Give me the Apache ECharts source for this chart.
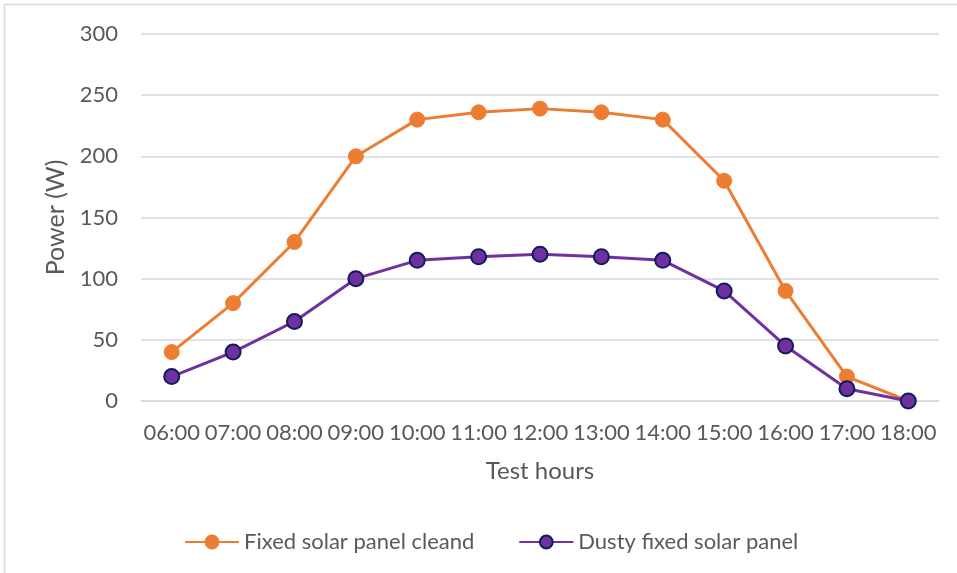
<!DOCTYPE html>
<html>
<head>
<meta charset="utf-8">
<script src="https://cdn.jsdelivr.net/npm/echarts@6/dist/echarts.min.js"></script>
<style>
html, body { margin: 0; padding: 0; background: #fff; }
#main { width: 957px; height: 573px; }
</style>
</head>
<body>
<div id="main"></div>
<script>
var hours = ['06:00', '07:00', '08:00', '09:00', '10:00', '11:00', '12:00', '13:00', '14:00', '15:00', '16:00', '17:00', '18:00'];
var cleanPanel = [40, 80, 130, 200, 230, 236, 239, 236, 230, 180, 90, 20, 0];
var dustyPanel = [20, 40, 65, 100, 115, 118, 120, 118, 115, 90, 45, 10, 0];

var myChart = echarts.init(document.getElementById('main'));

var font = 'Lato';
var grey = '#595959';

option = {
    backgroundColor: '#fff',
    textStyle: { fontFamily: font },
    graphic: [{
        type: 'rect',
        shape: { x: 4.5, y: 4.5, width: 1200, height: 1000 },
        style: { fill: 'none', stroke: '#d9d9d9', lineWidth: 1.5 },
        silent: true
    }],
    legend: {
        bottom: 15,
        left: 179,
        itemWidth: 54,
        itemHeight: 16,
        itemGap: 44,
        textStyle: { fontSize: 22, color: grey, fontFamily: font },
        data: ['Fixed solar panel cleand', 'Dusty fixed solar panel']
    },
    grid: {
        left: 141,
        right: 18,
        top: 34,
        bottom: 172
    },
    xAxis: {
        type: 'category',
        data: hours,
        name: 'Test hours',
        nameLocation: 'middle',
        nameGap: 58,
        nameTextStyle: { fontSize: 24, color: grey, fontFamily: font },
        axisLine: { lineStyle: { color: '#d9d9d9', width: 1.5 } },
        axisTick: { show: false },
        axisLabel: { fontSize: 22, color: grey, margin: 21, interval: 0, fontFamily: font }
    },
    yAxis: {
        type: 'value',
        min: 0,
        max: 300,
        interval: 50,
        name: 'Power (W)',
        nameLocation: 'middle',
        nameGap: 70,
        nameTextStyle: { fontSize: 25, color: grey, fontFamily: font },
        axisLine: { show: false },
        axisTick: { show: false },
        splitLine: { lineStyle: { color: '#d9d9d9', width: 1.5 } },
        axisLabel: { fontSize: 22, color: grey, margin: 23, fontFamily: font }
    },
    series: [
        {
            name: 'Fixed solar panel cleand',
            type: 'line',
            data: cleanPanel,
            symbol: 'circle',
            symbolSize: 15,
            lineStyle: { color: '#ED7D31', width: 3 },
            itemStyle: { color: '#ED7D31', borderColor: '#ED7D31', borderWidth: 1 }
        },
        {
            name: 'Dusty fixed solar panel',
            type: 'line',
            data: dustyPanel,
            symbol: 'circle',
            symbolSize: 15,
            lineStyle: { color: '#7030A0', width: 3 },
            itemStyle: { color: '#7030A0', borderColor: '#0E1E5B', borderWidth: 2 }
        }
    ]
};

myChart.setOption(option);
</script>
</body>
</html>
